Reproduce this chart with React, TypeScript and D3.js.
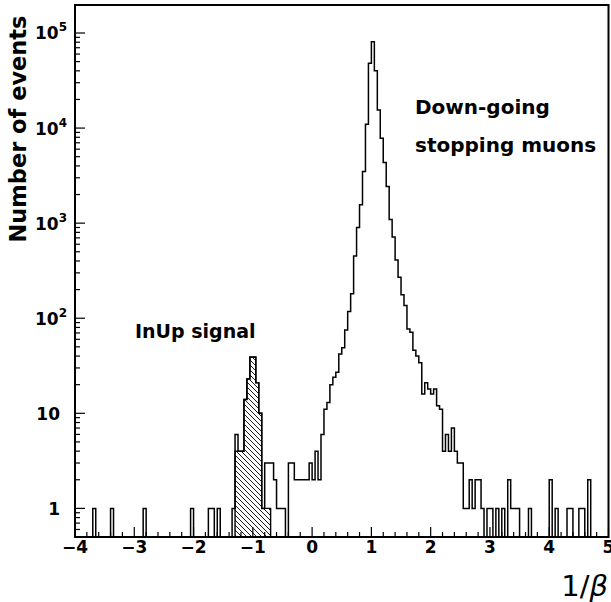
import React, { useEffect } from 'react';
import * as d3 from 'd3';

const W = 611;
const H = 602;
const X_DOMAIN: [number, number] = [-4, 5];
const Y_DOMAIN: [number, number] = [0.5, 1.97e5];
const BIN_WIDTH = 0.05;
const MAIN_START = -4;

// total histogram, 180 bins of width 0.05 from -4 to 5
const mainCounts: number[] = [
  0, 0, 0, 0, 0, 0, 1, 0, 0, 0,
  0, 0, 1, 0, 0, 0, 0, 0, 0, 0,
  0, 0, 0, 1, 0, 0, 0, 0, 0, 0,
  0, 0, 0, 0, 0, 0, 0, 0, 0, 1,
  0, 0, 0, 0, 0, 1, 1, 0, 1, 0,
  0, 0, 0, 1, 6, 4, 4, 14, 23, 39,
  39, 21, 10, 1, 3, 3, 3, 2, 1, 1,
  1, 0, 3, 3, 2, 2, 2, 2, 2, 3,
  2, 4, 2, 6, 11, 13, 20, 24, 27, 42,
  49, 75, 118, 181, 450, 900, 1560, 3500, 11000, 48000,
  81000, 40000, 15500, 7800, 4350, 2430, 1090, 715, 410, 270,
  177, 136, 77, 71, 46, 40, 34, 16, 21, 18,
  16, 18, 12, 11, 4, 6, 4, 7, 4, 3,
  3, 1, 1, 2, 1, 2, 2, 1, 0, 1,
  1, 0, 1, 0, 1, 0, 2, 1, 1, 1,
  0, 0, 0, 1, 0, 0, 0, 0, 0, 0,
  2, 0, 1, 0, 0, 0, 1, 1, 0, 0,
  1, 1, 0, 2, 0, 0, 0, 0, 0, 0,
];

// InUp signal (hatched), bins of width 0.05 from -1.3
const SIGNAL_START = -1.3;
const signalCounts: number[] = [4, 4, 4, 14, 23, 39, 39, 21, 10, 1, 1, 1];

const xTickValues = [-4, -3, -2, -1, 0, 1, 2, 3, 4, 5];
const xTickLabels = ['\u22124', '\u22123', '\u22122', '\u22121', '0', '1', '2', '3', '4', '5'];
const yTickValues = [1, 10, 100, 1000, 10000, 100000];
const yTickBases = ['1', '10', '10', '10', '10', '10'];
const yTickExps = ['', '', '2', '3', '4', '5'];

const PLOT = { left: 75, right: 608.5, top: 5, bottom: 537 };
const FONT = "'DejaVu Sans', sans-serif";

function histPath(
  counts: number[],
  start: number,
  x: d3.ScaleLinear<number, number>,
  y: d3.ScaleLogarithmic<number, number>,
  floorY: number
): string {
  const p = d3.path();
  p.moveTo(x(start), floorY);
  counts.forEach((c, i) => {
    const x0 = x(start + i * BIN_WIDTH);
    const x1 = x(start + (i + 1) * BIN_WIDTH);
    const yy = c > 0 ? y(c) : floorY;
    p.lineTo(x0, yy);
    p.lineTo(x1, yy);
  });
  p.lineTo(x(start + counts.length * BIN_WIDTH), floorY);
  return p.toString();
}

export default function App() {
  useEffect(() => {
    document.body.style.margin = '0';
  }, []);

  const x = d3.scaleLinear().domain(X_DOMAIN).range([PLOT.left, PLOT.right]);
  const y = d3.scaleLog().domain(Y_DOMAIN).range([PLOT.bottom, PLOT.top]);

  const mainD = histPath(mainCounts, MAIN_START, x, y, PLOT.bottom);
  const sigD = histPath(signalCounts, SIGNAL_START, x, y, PLOT.bottom);

  const xMinor: number[] = d3.range(0, 46).map((i) => -4 + i * 0.2);
  const yMinor: number[] = [];
  for (let e = -1; e <= 5; e++) {
    for (let m = 1; m <= 9; m++) {
      const v = m * Math.pow(10, e);
      if (v >= Y_DOMAIN[0] && v <= Y_DOMAIN[1]) yMinor.push(v);
    }
  }

  return (
    <svg width={W} height={H} style={{ display: 'block', background: '#fff' }} fontFamily={FONT}>
      <defs>
        <pattern id="hatch" patternUnits="userSpaceOnUse" width={5} height={5}>
          <path d="M0,0 L5,5 M-1,4 L1,6 M4,-1 L6,1" stroke="#000" strokeWidth={0.9} />
        </pattern>
        <clipPath id="plotClip">
          <rect x={PLOT.left} y={PLOT.top} width={PLOT.right - PLOT.left} height={PLOT.bottom - PLOT.top} />
        </clipPath>
      </defs>
      <rect x={0} y={0} width={W} height={H} fill="#fff" />

      <g clipPath="url(#plotClip)">
        <path d={sigD} fill="url(#hatch)" stroke="#000" strokeWidth={1.4} />
        <path d={mainD} fill="none" stroke="#000" strokeWidth={1.5} strokeLinejoin="miter" />
      </g>

      {xMinor.map((v, i) => {
        const isMajor = Math.abs(v - Math.round(v)) < 1e-6;
        const xx = x(v);
        return (
          <line key={'xt' + i} x1={xx} x2={xx} y1={PLOT.bottom} y2={PLOT.bottom - (isMajor ? 10 : 5)} stroke="#000" strokeWidth={1.2} />
        );
      })}
      {yMinor.map((v, i) => {
        const isMajor = Math.abs(Math.log10(v) - Math.round(Math.log10(v))) < 1e-6;
        const yy = y(v);
        return (
          <line key={'yt' + i} x1={PLOT.left} x2={PLOT.left + (isMajor ? 10 : 5)} y1={yy} y2={yy} stroke="#000" strokeWidth={1.2} />
        );
      })}

      <rect x={PLOT.left} y={PLOT.top} width={PLOT.right - PLOT.left} height={PLOT.bottom - PLOT.top} fill="none" stroke="#000" strokeWidth={2} />

      {xTickValues.map((v, i) => (
        <text key={'xl' + i} x={x(v)} y={553} textAnchor="middle" fontSize={17} fontWeight="bold">
          {xTickLabels[i]}
        </text>
      ))}

      {yTickValues.map((v, i) => {
        const yy = y(v);
        if (!yTickExps[i]) {
          return (
            <text key={'yl' + i} x={60} y={yy + 6.5} textAnchor="end" fontSize={17} fontWeight="bold">
              {yTickBases[i]}
            </text>
          );
        }
        return (
          <text key={'yl' + i} x={35} y={yy + 6.5} textAnchor="start" fontSize={17} fontWeight="bold">
            {yTickBases[i]}
            <tspan fontSize={12} dy={-8}>{yTickExps[i]}</tspan>
          </text>
        );
      })}

      <text transform="translate(26,129) rotate(-90)" textAnchor="middle" fontSize={22.5} fontWeight="bold">
        Number of events
      </text>
      <text x={608} y={596} textAnchor="end" fontSize={29}>
        1/<tspan fontStyle="italic">β</tspan>
      </text>

      <text x={415} y={114} fontSize={20} fontWeight="bold">Down-going</text>
      <text x={415} y={152} fontSize={20} fontWeight="bold">stopping muons</text>
      <text x={135} y={338} fontSize={19} fontWeight="bold">InUp signal</text>
    </svg>
  );
}
